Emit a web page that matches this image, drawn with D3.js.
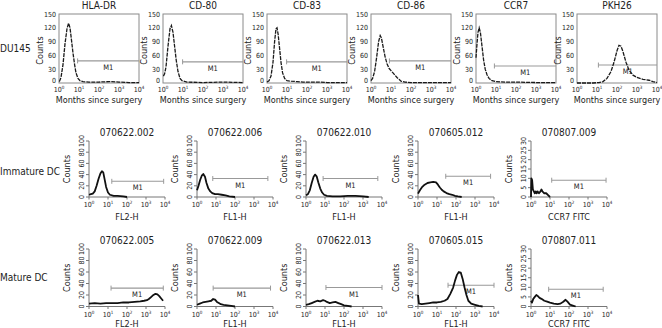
<!DOCTYPE html>
<html>
<head>
<meta charset="utf-8">
<script src="https://cdn.jsdelivr.net/npm/d3@7"></script>
<style>
  body { margin: 0; background: #fff; }
  text { font-family: "Liberation Sans Narrow", "Arial Narrow", "DejaVu Sans Condensed", sans-serif; fill: #222; }
</style>
</head>
<body>
<div id="wrapper"></div>
<script>
// ---- data (x = log10 of intensity, y = counts) ----
const decades = [0, 1, 2, 3, 4];

const topTitles = ["HLA-DR", "CD-80", "CD-83", "CD-86", "CCR7", "PKH26"];
const topTicks = [0, 30, 60, 90, 120, 150];
const topM1 = [[0.93, 4, 48], [0.98, 4, 46], [0.98, 4, 46], [0.92, 4, 48], [0.92, 4, 37], [1.07, 4, 39]];

const hladr = [[0.02,3],[0.1,12],[0.2,40],[0.3,85],[0.4,118],[0.48,130],[0.55,120],[0.62,95],[0.7,65],[0.78,40],[0.85,22],[0.95,10],[1.05,5],[1.2,3],[1.5,2],[2,2],[2.5,3],[3,2],[3.5,1],[4,1]];
const cd80 = [[0.02,15],[0.08,20],[0.15,35],[0.25,80],[0.35,118],[0.42,125],[0.5,110],[0.58,80],[0.66,50],[0.75,25],[0.85,10],[0.95,5],[1.2,2],[2,1],[3,2],[4,1]];
const cd83 = [[0,2],[0.1,5],[0.2,15],[0.3,45],[0.38,90],[0.45,118],[0.5,120],[0.56,105],[0.63,75],[0.7,45],[0.78,22],[0.88,10],[1,5],[1.2,4],[1.5,3],[1.8,2],[2.2,2],[2.6,2],[3,1],[4,1]];
const cd86 = [[0,5],[0.08,10],[0.18,25],[0.28,55],[0.38,90],[0.46,103],[0.52,98],[0.6,80],[0.7,58],[0.8,42],[0.9,32],[1,27],[1.1,22],[1.2,17],[1.3,12],[1.4,8],[1.5,4],[1.7,2],[2,1],[3,1],[4,1]];
const ccr7 = [[0,55],[0.05,85],[0.1,110],[0.16,120],[0.22,110],[0.3,80],[0.38,50],[0.46,30],[0.55,18],[0.65,10],[0.8,5],[1,3],[1.5,2],[2,2],[3,1],[4,1]];
const pkh26 = [[0,0],[0.8,0],[1.1,1],[1.3,3],[1.5,10],[1.7,25],[1.85,45],[2,70],[2.1,82],[2.2,80],[2.3,68],[2.45,45],[2.6,28],[2.8,17],[3,12],[3.3,8],[3.6,6],[3.8,3],[4,1]];
const topCurves = [hladr, cd80, cd83, cd86, ccr7, pkh26];

const midTitles = ["070622.002", "070622.006", "070622.010", "070605.012", "070807.009"];
const midLabels = ["FL2-H", "FL1-H", "FL1-H", "FL1-H", "CCR7 FITC"];
const midMax = [100, 100, 100, 100, 30];
const midM1 = [[1.2, 3.93, 28], [0.83, 3.73, 33], [0.9, 3.78, 33], [1.46, 3.82, 37], [1.09, 3.95, 9]];
const imm002 = [[0,4],[0.1,5],[0.2,6],[0.3,10],[0.4,20],[0.5,32],[0.6,42],[0.68,46],[0.75,44],[0.82,32],[0.9,18],[1,8],[1.1,4],[1.3,2],[1.5,2],[1.8,1],[2,0]];
const imm006 = [[0,12],[0.08,20],[0.16,30],[0.25,38],[0.33,41],[0.42,36],[0.5,25],[0.6,15],[0.7,10],[0.8,7],[0.95,5],[1.1,5],[1.3,4],[1.5,3],[1.7,1],[2,0]];
const imm010 = [[0,3],[0.1,5],[0.2,12],[0.3,25],[0.4,36],[0.48,40],[0.56,37],[0.65,26],[0.75,15],[0.85,8],[0.95,4],[1.1,2],[1.4,1],[1.8,1],[2.2,2],[2.6,2],[3,1],[3.3,0]];
const imm012 = [[0,6],[0.1,12],[0.2,17],[0.35,22],[0.5,25],[0.65,26],[0.8,27],[0.95,26],[1.05,22],[1.15,17],[1.25,13],[1.35,10],[1.5,7],[1.65,5],[1.8,4],[1.95,2],[2.1,1],[2.3,0]];
const imm009 = [[0,0],[0.02,10],[0.06,9],[0.1,4],[0.15,3],[0.2,2],[0.25,3],[0.3,2],[0.35,3],[0.42,2],[0.5,3],[0.55,4],[0.6,3],[0.7,2],[0.8,2],[0.9,1],[1,0]];
const midCurves = [imm002, imm006, imm010, imm012, imm009];

const botTitles = ["070622.005", "070622.009", "070622.013", "070605.015", "070807.011"];
const botLabels = ["FL2-H", "FL1-H", "FL1-H", "FL1-H", "CCR7 FITC"];
const botMax = [100, 100, 100, 100, 30];
const botM1 = [[1.16, 3.91, 32], [0.85, 3.87, 32], [1.05, 4, 33], [1.58, 4, 37], [0.93, 3.8, 9]];
const mat005 = [[0,5],[0.3,6],[0.6,5],[0.9,6],[1.2,6],[1.5,6],[1.8,7],[2.1,7],[2.4,8],[2.7,9],[2.9,10],[3.05,11],[3.15,13],[3.25,16],[3.35,19],[3.5,22],[3.6,21],[3.7,18],[3.8,14],[3.9,10]];
const mat009 = [[0,3],[0.15,5],[0.3,7],[0.45,8],[0.6,9],[0.75,10],[0.85,13],[0.95,12],[1.05,8],[1.15,6],[1.25,4],[1.4,3],[1.6,2],[1.8,1],[2,0]];
const mat013 = [[0,3],[0.15,4],[0.3,6],[0.45,8],[0.6,10],[0.75,9],[0.9,11],[1,10],[1.1,8],[1.25,6],[1.4,7],[1.55,8],[1.7,6],[1.85,4],[2,2],[2.2,1],[2.4,0]];
const mat015 = [[0,20],[0.05,5],[0.2,4],[0.4,5],[0.6,6],[0.8,7],[1,7],[1.2,8],[1.4,10],[1.55,13],[1.7,22],[1.85,33],[1.95,45],[2.05,55],[2.15,60],[2.25,59],[2.35,48],[2.45,33],[2.55,20],[2.65,10],[2.8,5],[3,3],[3.2,1],[3.4,0]];
const mat011 = [[0,3],[0.05,2],[0.12,4],[0.2,5],[0.28,6],[0.35,5.5],[0.45,4.5],[0.55,4],[0.7,3],[0.85,2.5],[1,2],[1.2,1.5],[1.4,1.2],[1.55,1.5],[1.7,2.5],[1.82,3.5],[1.92,2.5],[2.05,1],[2.2,0.5],[2.35,0]];
const botCurves = [mat005, mat009, mat013, mat015, mat011];

// ---- layout ----
const width = 662, height = 328;
const topLefts = [59, 163, 267, 371, 476, 577];
const rowLefts = [89, 197, 306, 418, 531];

const svg = d3.select("#wrapper").append("svg")
  .attr("width", width)
  .attr("height", height);

function decadeLabel(sel, xScale, y) {
  decades.forEach(e => {
    const t = sel.append("text")
      .attr("x", xScale(e))
      .attr("y", y)
      .attr("text-anchor", "middle")
      .style("font-size", "7px")
    t.append("tspan").text("10")
    t.append("tspan").attr("dy", -3).style("font-size", "4.5px").text(e)
  })
}

function drawM1(g, xScale, yScale, m, capRight) {
  const y = yScale(m[2])
  g.append("line")
    .attr("x1", xScale(m[0])).attr("x2", xScale(m[1]))
    .attr("y1", y).attr("y2", y)
    .attr("stroke", "#999").attr("stroke-width", 1.1)
  const caps = capRight ? [m[0], m[1]] : [m[0]]
  caps.forEach(c => g.append("line")
    .attr("x1", xScale(c)).attr("x2", xScale(c))
    .attr("y1", y - 2.5).attr("y2", y + 2.5)
    .attr("stroke", "#999").attr("stroke-width", 1))
  g.append("text")
    .attr("x", xScale((m[0] + m[1]) / 2))
    .attr("y", y + 9)
    .attr("text-anchor", "middle")
    .style("font-size", "7.5px")
    .text("M1")
}

// top row: framed histograms
topTitles.forEach((title, i) => {
  const x0 = topLefts[i], w = 80, yTop = 14, yBot = 83
  const xScale = d3.scaleLinear().domain([0, 4]).range([x0, x0 + w])
  const yScale = d3.scaleLinear().domain([0, 150]).range([yBot, yTop])
  const g = svg.append("g")

  g.append("rect")
    .attr("x", x0).attr("y", yTop)
    .attr("width", w).attr("height", yBot - yTop)
    .attr("fill", "none").attr("stroke", "#8a8a8a").attr("stroke-width", 1)

  g.append("text")
    .attr("x", x0 + w / 2).attr("y", 9)
    .attr("text-anchor", "middle")
    .style("font-size", "10px")
    .text(title)

  topTicks.forEach(t => g.append("text")
    .attr("x", x0 - 3).attr("y", yScale(t) + (t == 0 ? 0 : 2.5))
    .attr("text-anchor", "end")
    .style("font-size", "7px")
    .text(t))

  decadeLabel(g, xScale, 91.5)

  g.append("text")
    .attr("transform", `translate(${x0 - 16},${(yTop + yBot) / 2 + 2}) rotate(-90)`)
    .attr("text-anchor", "middle")
    .style("font-size", "9px")
    .text("Counts")

  g.append("text")
    .attr("x", x0 + w / 2).attr("y", 103)
    .attr("text-anchor", "middle")
    .style("font-size", "9px")
    .text("Months since surgery")

  drawM1(g, xScale, yScale, topM1[i], false)

  const line = d3.line().x(d => xScale(d[0])).y(d => yScale(d[1]))
  g.append("path")
    .attr("d", line(topCurves[i]))
    .attr("fill", "none")
    .attr("stroke", "#1a1a1a")
    .attr("stroke-width", 1.3)
    .attr("stroke-dasharray", "4,1")
})

// rows 2 and 3: open axes, thick histograms
function drawRow(titles, labels, maxes, m1s, curves, yTop, yBot, labelGap) {
  titles.forEach((title, i) => {
    const x0 = rowLefts[i], w = 76
    const xScale = d3.scaleLinear().domain([0, 4]).range([x0, x0 + w])
    const yScale = d3.scaleLinear().domain([0, maxes[i]]).range([yBot, yTop])
    const g = svg.append("g")
    const yTicks = d3.range(0, maxes[i] + 1, maxes[i] == 30 ? 5 : 20)

    g.append("text")
      .attr("x", x0 + w / 2).attr("y", yTop - 5)
      .attr("text-anchor", "middle")
      .style("font-size", "10px")
      .text(title)

    // axes
    g.append("line")
      .attr("x1", x0).attr("x2", x0).attr("y1", yTop).attr("y2", yBot)
      .attr("stroke", "#777")
    g.append("line")
      .attr("x1", x0).attr("x2", x0 + w).attr("y1", yBot).attr("y2", yBot)
      .attr("stroke", "#777")
    yTicks.forEach(t => {
      g.append("line")
        .attr("x1", x0 - 3).attr("x2", x0)
        .attr("y1", yScale(t)).attr("y2", yScale(t))
        .attr("stroke", "#777")
      g.append("text")
        .attr("transform", `translate(${x0 - 5},${yScale(t)}) rotate(-90)`)
        .attr("text-anchor", "middle")
        .style("font-size", "7px")
        .text(t)
    })
    decades.forEach(e => g.append("line")
      .attr("x1", xScale(e)).attr("x2", xScale(e))
      .attr("y1", yBot).attr("y2", yBot + 2.5)
      .attr("stroke", "#777"))
    decadeLabel(g, xScale, yBot + 10)

    g.append("text")
      .attr("transform", `translate(${x0 - 19},${(yTop + yBot) / 2}) rotate(-90)`)
      .attr("text-anchor", "middle")
      .style("font-size", "9px")
      .text("Counts")

    g.append("text")
      .attr("x", x0 + w / 2).attr("y", yBot + labelGap)
      .attr("text-anchor", "middle")
      .style("font-size", "9px")
      .text(labels[i])

    drawM1(g, xScale, yScale, m1s[i], true)

    const line = d3.line().x(d => xScale(d[0])).y(d => yScale(d[1]))
    g.append("path")
      .attr("d", line(curves[i]))
      .attr("fill", "none")
      .attr("stroke", "#111")
      .attr("stroke-width", 1.8)
      .attr("stroke-linejoin", "round")
  })
}

drawRow(midTitles, midLabels, midMax, midM1, midCurves, 141, 197, 23)
drawRow(botTitles, botLabels, botMax, botM1, botCurves, 249, 306.5, 20.5)

// row labels
const rowNames = [["DU145", 52], ["Immature DC", 175], ["Mature DC", 281]]
rowNames.forEach(r => svg.append("text")
  .attr("x", 0).attr("y", r[1])
  .style("font-size", "10px")
  .text(r[0]))
</script>
</body>
</html>
